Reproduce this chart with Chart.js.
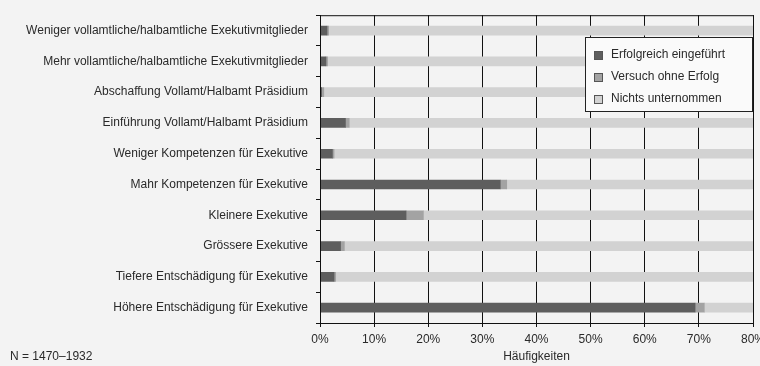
<!DOCTYPE html>
<html>
<head>
<meta charset="utf-8">
<script src="https://cdn.jsdelivr.net/npm/chart.js@4/dist/chart.umd.min.js"></script>
<style>
  html, body { margin: 0; padding: 0; background: #f3f3f3; }
  #wrap { width: 760px; height: 366px; position: relative; }
</style>
</head>
<body>
<div id="wrap"><canvas id="chart" width="760" height="366"></canvas></div>
<script>
// Kategorien (von oben nach unten)
const categories = [
    'Weniger vollamtliche/halbamtliche Exekutivmitglieder',
    'Mehr vollamtliche/halbamtliche Exekutivmitglieder',
    'Abschaffung Vollamt/Halbamt Präsidium',
    'Einführung Vollamt/Halbamt Präsidium',
    'Weniger Kompetenzen für Exekutive',
    'Mahr Kompetenzen für Exekutive',
    'Kleinere Exekutive',
    'Grössere Exekutive',
    'Tiefere Entschädigung für Exekutive',
    'Höhere Entschädigung für Exekutive'
];
const erfolgreich = [1.3, 1.1, 0.3, 4.7, 2.3, 33.3, 15.9, 3.8, 2.6, 69.3];
const versuch     = [0.3, 0.3, 0.4, 0.7, 0.3, 1.2, 3.2, 0.7, 0.3, 1.7];
const nichts      = erfolgreich.map((v, i) => 100 - v - versuch[i]);
const xTicks = [0, 10, 20, 30, 40, 50, 60, 70, 80];

const FONT = "'Liberation Sans', Arial, sans-serif";
const TXT = '#2a2a2a';

// Rahmen, Legende und Fussnote
const extras = {
    id: 'extras',
    afterDraw(chart) {
        const { ctx, chartArea: a } = chart;
        ctx.save();
        ctx.strokeStyle = '#111';
        ctx.lineWidth = 1;
        ctx.strokeRect(a.left + 0.5, a.top + 0.5, a.right - a.left, a.bottom - a.top);

        // Legende
        const bx = 585, by = 37, bw = 167, bh = 74;
        ctx.fillStyle = '#fafafa';
        ctx.fillRect(bx, by, bw, bh);
        ctx.strokeStyle = '#222';
        ctx.strokeRect(bx + 0.5, by + 0.5, bw, bh);
        ctx.font = '12px ' + FONT;
        ctx.textBaseline = 'middle';
        chart.data.datasets.forEach((ds, i) => {
            const y = by + 18 + i * 22;
            ctx.fillStyle = ds.backgroundColor;
            ctx.fillRect(bx + 9, y - 4, 9, 9);
            ctx.strokeStyle = '#555';
            ctx.strokeRect(bx + 9.5, y - 3.5, 8, 8);
            ctx.fillStyle = TXT;
            ctx.fillText(ds.label, bx + 26, y);
        });

        ctx.fillStyle = TXT;
        ctx.font = '12px ' + FONT;
        ctx.textBaseline = 'alphabetic';
        ctx.fillText('N = 1470–1932', 10, 360);
        ctx.restore();
    }
};

new Chart(document.getElementById('chart').getContext('2d'), {
    type: 'bar',
    data: {
        labels: categories,
        datasets: [
            { label: 'Erfolgreich eingeführt', data: erfolgreich, backgroundColor: '#5e5e5e' },
            { label: 'Versuch ohne Erfolg', data: versuch, backgroundColor: '#a3a3a3' },
            { label: 'Nichts unternommen', data: nichts, backgroundColor: '#d2d2d2' }
        ]
    },
    options: {
        indexAxis: 'y',
        responsive: false,
        animation: false,
        layout: { padding: { top: 11, right: 7, left: 0, bottom: 2 } },
        datasets: { bar: { barThickness: 9, borderWidth: 0 } },
        plugins: { legend: { display: false }, tooltip: { enabled: false } },
        scales: {
            x: {
                stacked: true,
                min: 0,
                max: 80,
                afterBuildTicks: s => { s.ticks = xTicks.map(v => ({ value: v })); },
                afterFit: s => { s.paddingRight = 0; s.paddingLeft = 0; s.height = 41; },
                ticks: { callback: v => v + '%', color: TXT, font: { family: FONT, size: 12 }, padding: 5, maxRotation: 0 },
                grid: { color: '#111', lineWidth: 1, tickLength: 4 },
                border: { color: '#111' },
                title: { display: true, text: 'Häufigkeiten', color: TXT, font: { family: FONT, size: 12 }, padding: { top: 0, bottom: 0 } }
            },
            y: {
                stacked: true,
                afterFit: s => { s.width = 320; },
                ticks: { color: TXT, font: { family: FONT, size: 12 }, padding: 8 },
                grid: { drawOnChartArea: false, color: '#111', tickLength: 4, offset: true },
                border: { color: '#111' }
            }
        }
    },
    plugins: [extras]
});
</script>
</body>
</html>
